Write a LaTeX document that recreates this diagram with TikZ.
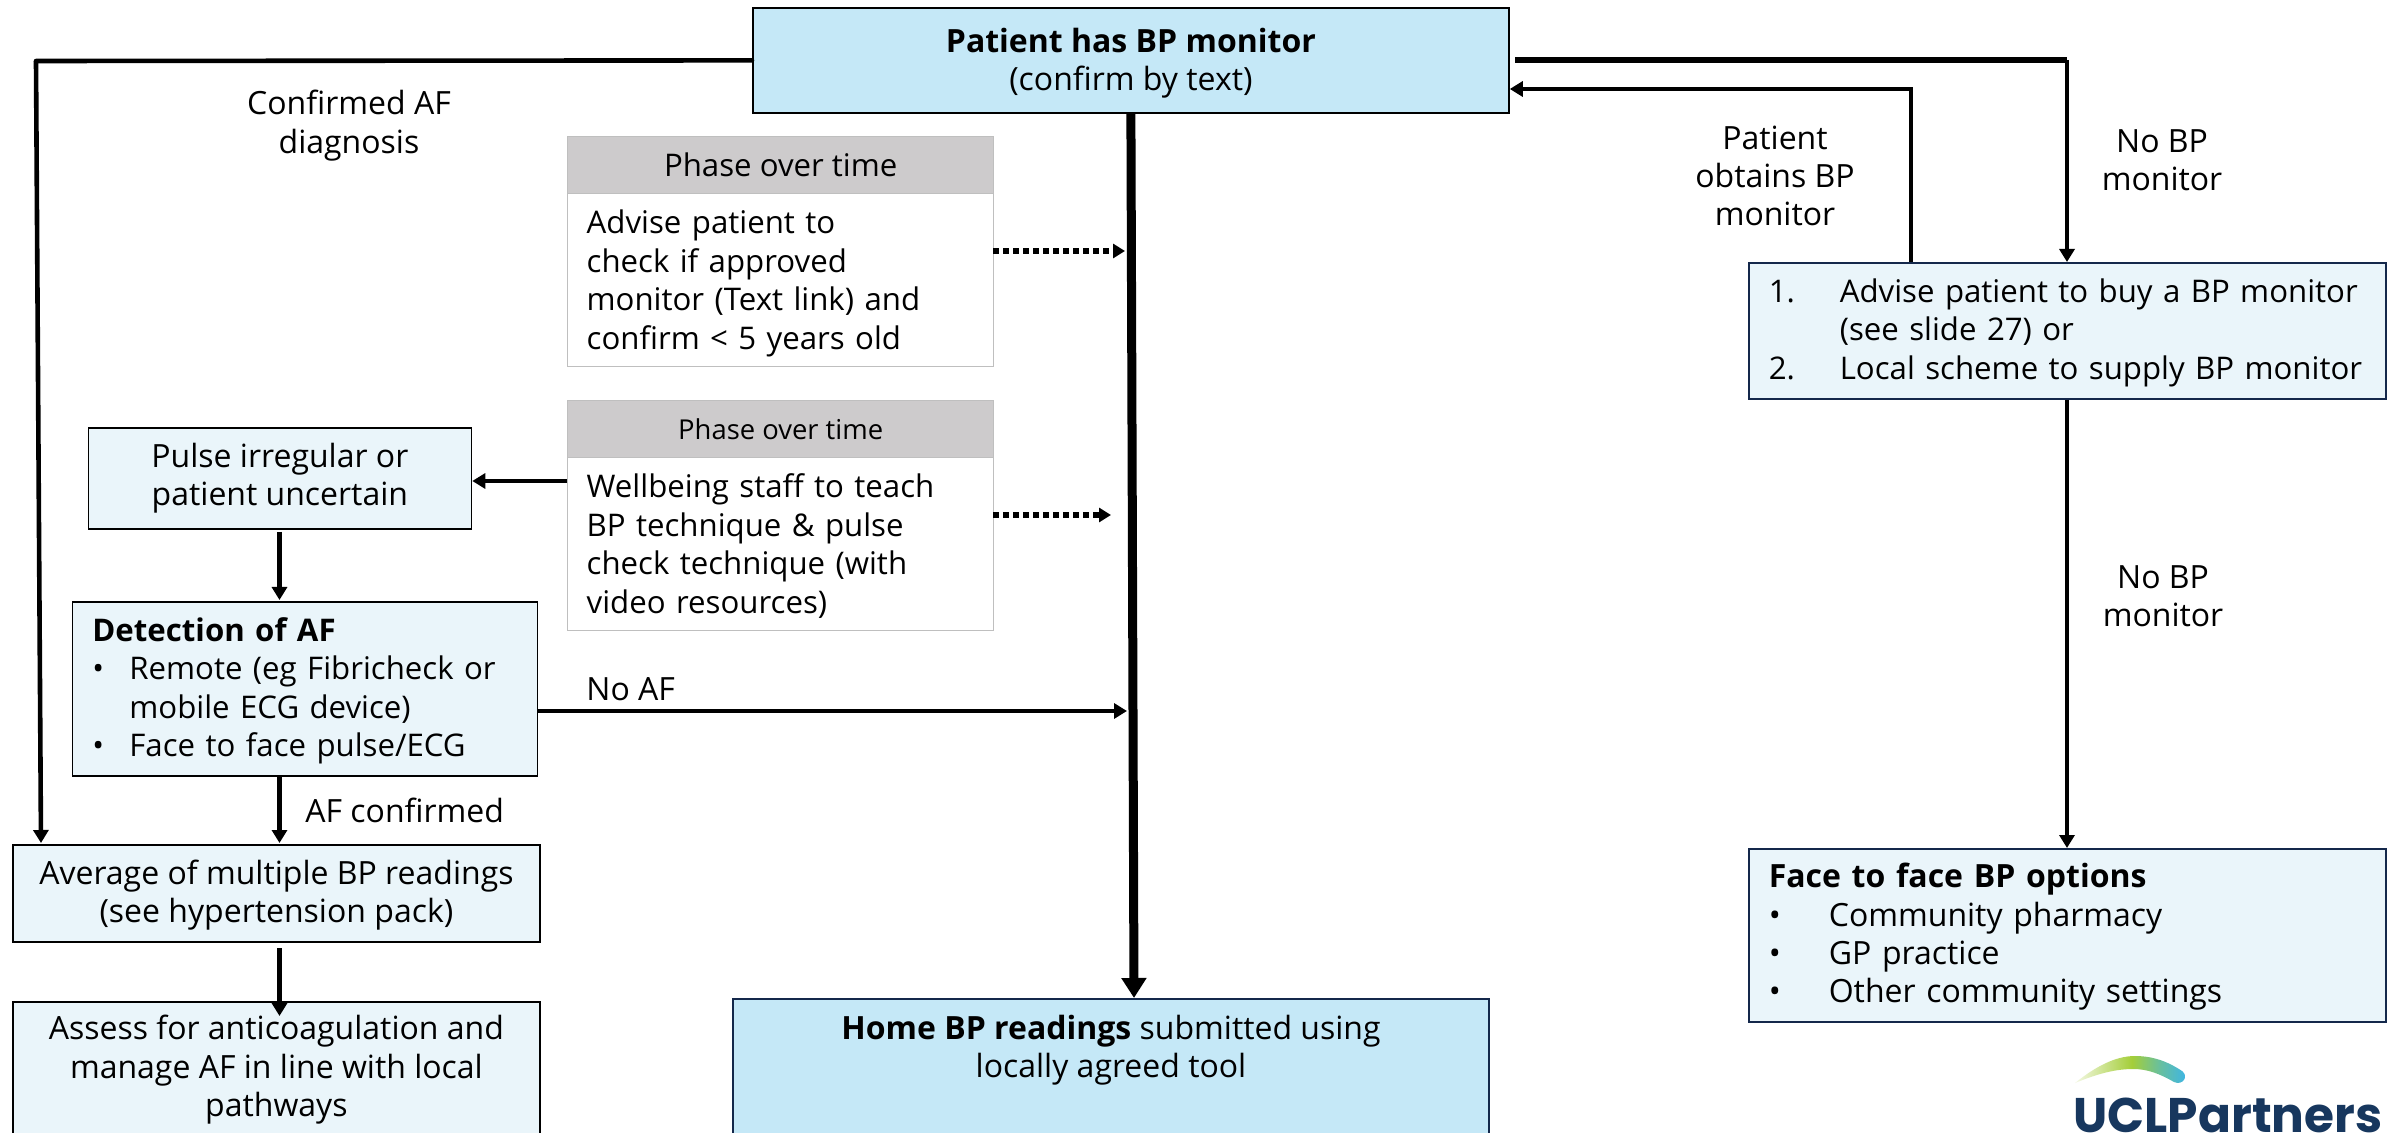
\documentclass[tikz,border=0pt]{standalone}
\usepackage{fontspec}
\setmainfont{Open Sans}
\newfontfamily\logofont{Poppins}
\usetikzlibrary{arrows.meta}
\definecolor{topblue}{HTML}{C5E8F7}
\definecolor{lightblue}{HTML}{EAF5FA}
\definecolor{headgray}{HTML}{CDCBCC}
\definecolor{edgegray}{HTML}{BFBFBF}
\definecolor{navy}{HTML}{14284B}
\definecolor{logonavy}{HTML}{17375E}
\definecolor{logoa}{HTML}{F4F8E4}
\definecolor{logob}{HTML}{A4CE39}
\definecolor{logoc}{HTML}{41B6E0}
\pgfdeclarehorizontalshading{logoarc}{100bp}{color(0bp)=(logoa); color(25bp)=(logoa); color(50bp)=(logob); color(62bp)=(logoc!60!logob); color(73bp)=(logoc); color(100bp)=(logoc)}
\newcommand{\bu}{\makebox[18.5pt][l]{•}}
\newcommand{\ind}{\hspace*{18.5pt}}
\newcommand{\itm}[1]{\makebox[35.5pt][l]{#1}}
\newcommand{\dnA}{\rule{0pt}{15pt}}
\newcommand{\dnB}{\rule{0pt}{13.8pt}}
\tikzset{
  txt/.style={font=\fontsize{16}{19.2}\selectfont, inner sep=0pt},
  tight/.style={font=\fontsize{15.6}{19.2}\selectfont},
  bx/.style={txt, draw=black, line width=0.9pt, anchor=north west, inner ysep=0pt, align=center},
  topbox/.style={bx, fill=topblue},
  lightbox/.style={bx, fill=lightblue},
  navybox/.style={bx, draw=navy, line width=0.8pt},
  headbox/.style={bx, tight, fill=headgray, draw=edgegray, line width=0.7pt},
  bodybox/.style={bx, tight, fill=white, draw=edgegray, line width=0.7pt, align=left},
  conn/.style={draw=black, line width=2.3pt, -{Triangle[length=6.5pt,width=7.5pt]}},
  plain/.style={draw=black, line width=2.3pt},
  heavy/.style={draw=black, line width=4.5pt, -{Triangle[length=10pt,width=12pt]}},
  dots/.style={draw=black, line width=2.7pt, dash pattern=on 3pt off 2pt, -{Triangle[length=6pt,width=7pt]}},
  lbl/.style={txt, align=center}
}
\begin{document}
\begin{tikzpicture}[x=0.5pt,y=-0.5pt]
\path[use as bounding box, clip] (0,0) rectangle (2400,1133);
\fill[white] (0,0) rectangle (2400,1133);

% boxes
\node[topbox, minimum width=378pt, minimum height=52.5pt] (top) at (752,7) {\dnA\textbf{Patient has BP monitor}\\(confirm by text)};
\node[headbox, minimum width=213pt, minimum height=28.5pt] (h1) at (567,136) {Phase over time};
\node[bodybox, text width=194pt, inner xsep=9.5pt, minimum height=86.5pt] (b1) at (567,193) {\dnA Advise patient to\\check if approved\\monitor (Text link) and\\confirm < 5 years old};
\node[headbox, minimum width=213pt, minimum height=28.5pt, font=\fontsize{13.7}{16}\selectfont] (h2) at (567,400) {Phase over time};
\node[bodybox, text width=194pt, inner xsep=9.5pt, minimum height=86.5pt] (b2) at (567,457) {\dnB Wellbeing staff to teach\\BP technique \& pulse\\check technique (with\\video resources)};
\node[lightbox, minimum width=191.5pt, minimum height=50.5pt] (pulse) at (87.5,427) {Pulse irregular or\\patient uncertain};
\node[lightbox, tight, align=left, text width=212.5pt, inner xsep=10pt, minimum height=87pt] (detect) at (71.5,601) {\dnB\textbf{Detection of AF}\\\bu Remote (eg Fibricheck or\\\ind mobile ECG device)\\\bu Face to face pulse/ECG};
\node[lightbox, minimum width=263.5pt, minimum height=48.5pt] (avg) at (12,844) {\dnB Average of multiple BP readings\\(see hypertension pack)};
\node[lightbox, minimum width=263.5pt, minimum height=68pt] (assess) at (12,1001) {Assess for anticoagulation and\\manage AF in line with local\\pathways};
\node[navybox, fill=topblue, minimum width=378pt, minimum height=80pt] (home) at (732,998) {};
\node[lbl] (hometext) at (1111,1050) {\textbf{Home BP readings} submitted using\\locally agreed tool};
\node[navybox, tight, fill=lightblue, align=left, text width=298.5pt, inner xsep=10pt, minimum height=68pt] (advise) at (1748,262) {\dnB\itm{1.}Advise patient to buy a BP monitor\\\itm{}(see slide 27) or\\\itm{2.}Local scheme to supply BP monitor};
\node[navybox, fill=lightblue, align=left, text width=298.5pt, inner xsep=10pt, minimum height=86.5pt] (face) at (1748,848) {\dnB\textbf{Face to face BP options}\\\makebox[30pt][l]{•}Community pharmacy\\\makebox[30pt][l]{•}GP practice\\\makebox[30pt][l]{•}Other community settings};

% labels
\node[lbl] (l1) at (349,125.5) {Confirmed AF\\diagnosis};
\node[lbl] (l2) at (1775,176) {Patient\\obtains BP\\monitor};
\node[lbl] (l3) at (2162,160) {No BP\\monitor};
\node[lbl] (l4) at (2163,596.5) {No BP\\monitor};
\node[txt, anchor=base west] (l5) at (586,701) {No AF};
\node[txt, anchor=base west] (l6) at (305,822.5) {AF confirmed};

% named free ends
\coordinate (leftcorner) at (36,61);
\coordinate (lefttip) at (41,843);
\coordinate (rightstart) at (1515,60);
\coordinate (rightcorner) at (2067,60);
\coordinate (backcorner) at (1911,89);
\coordinate (hometip) at (1134,998);
\coordinate (dot1a) at (993,251);
\coordinate (dot1b) at (1125,251);
\coordinate (dot2a) at (993,515);
\coordinate (dot2b) at (1111,515);
\coordinate (pulseline) at (567,481);
\coordinate (noaf) at (1127,711);
\coordinate (d1s) at (279.5,532);
\coordinate (d1e) at (279.5,600);
\coordinate (d2e) at (279.5,843);
\coordinate (d3s) at (279.5,948);
\coordinate (d3e) at (279.5,1016);

% connectors
\draw[plain, line cap=round] (top.west) -- (leftcorner);
\draw[conn] (leftcorner) -- (lefttip);
\draw[plain, line width=3pt] (rightstart) -- (rightcorner);
\draw[conn] (rightcorner) -- (advise.north -| rightcorner);
\draw[conn] (advise.south -| rightcorner) -- (face.north -| rightcorner);
\draw[conn, line join=miter] (advise.north -| backcorner) -- (backcorner) -- (top.east |- backcorner);
\draw[heavy] (top.south) -- (hometip);
\draw[dots] (dot1a) -- (dot1b);
\draw[dots] (dot2a) -- (dot2b);
\draw[conn] (pulseline) -- (pulse.east |- pulseline);
\draw[conn] (d1s) -- (d1e);
\draw[conn] (detect.east |- noaf) -- (noaf);
\draw[conn] (detect.south -| d2e) -- (d2e);
\draw[conn] (d3s) -- (d3e);

% logo
\path[shading=logoarc] (2075,1083) .. controls (2095,1067) and (2115,1056) .. (2135,1056) .. controls (2155,1056) and (2170,1063) .. (2182,1071) .. controls (2189,1076) and (2183,1086) .. (2174,1082) .. controls (2160,1074) and (2148,1069) .. (2133,1069) .. controls (2112,1069) and (2092,1076) .. (2075,1083) -- cycle;
\node[inner sep=0pt, anchor=base west, text=logonavy, font=\logofont\fontsize{24.3}{24.3}\selectfont\bfseries] (logo) at (2073,1132) {UCLPartners};
\end{tikzpicture}
\end{document}
